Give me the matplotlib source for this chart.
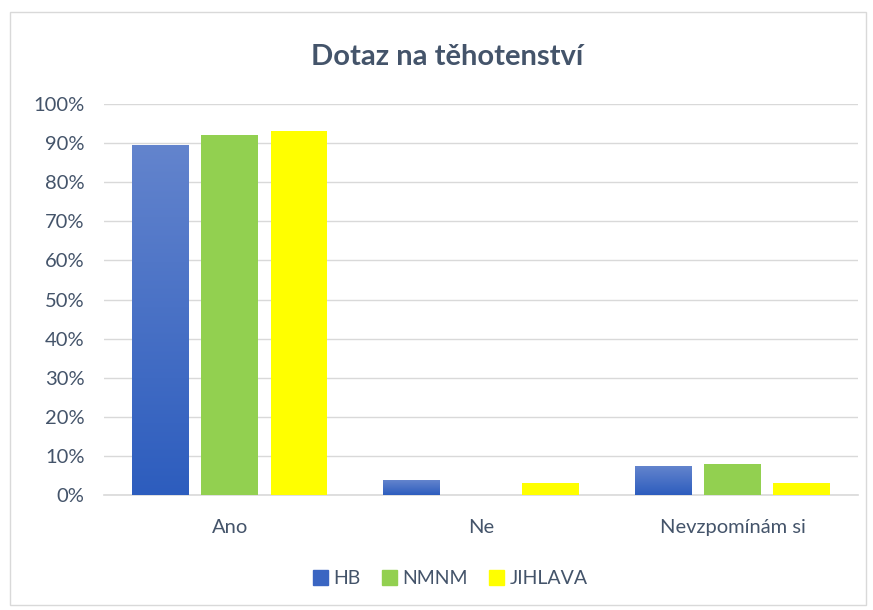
import numpy as np
import matplotlib.pyplot as plt
from matplotlib.patches import Rectangle
from matplotlib.colors import LinearSegmentedColormap

# data
kategorie = ["Ano", "Ne", "Nevzpomínám si"]
hb = [0.893, 0.036, 0.072]
nmnm = [0.920, 0.0, 0.079]
jihlava = [0.930, 0.032, 0.032]
serie = ["HB", "NMNM", "JIHLAVA"]

plt.rcParams["font.family"] = ["Lato", "DejaVu Sans"]
text_barva = "#44546A"

fig = plt.figure(figsize=(8.73, 6.10), dpi=100)
ax = fig.add_axes([0.119, 0.1885, 0.864, 0.641])

x = np.arange(len(kategorie))
sirka = 0.226
krok = 0.276

# HB with a vertical gradient like the original
modra = LinearSegmentedColormap.from_list("modra", ["#2D5DBE", "#6384CD"])
grad = np.linspace(0, 1, 256).reshape(-1, 1)
for xi, v in zip(x - krok, hb):
    ax.imshow(grad, cmap=modra, origin="lower", aspect="auto",
              extent=[xi - sirka / 2, xi + sirka / 2, 0, v], zorder=3)
ax.bar(x - krok, hb, sirka, color="none", zorder=3, label="HB")
ax.bar(x, nmnm, sirka, color="#92D050", zorder=3, label="NMNM")
ax.bar(x + krok, jihlava, sirka, color="#FFFF00", zorder=3, label="JIHLAVA")

ax.set_xlim(-0.5, 2.5)
ax.set_ylim(0, 1.0)
ax.set_yticks(np.arange(0, 1.01, 0.1))
ax.set_yticklabels([f"{int(round(t * 100))}%" for t in np.arange(0, 1.01, 0.1)])
ax.set_xticks(x)
ax.set_xticklabels(kategorie)
ax.tick_params(axis="both", length=0, labelsize=14.5, colors=text_barva)
ax.tick_params(axis="x", pad=17)
ax.tick_params(axis="y", pad=14)
ax.yaxis.grid(True, color="#D9D9D9", linewidth=1)
ax.set_axisbelow(True)
for s in ["top", "right", "left"]:
    ax.spines[s].set_visible(False)
ax.spines["bottom"].set_color("#D9D9D9")
ax.spines["bottom"].set_linewidth(1.2)

fig.text(0.512, 0.907, "Dotaz na těhotenství", ha="center", va="center",
         fontsize=21, fontweight="bold", color=text_barva)

handles = [Rectangle((0, 0), 1, 1, color="#3A65C2"),
           Rectangle((0, 0), 1, 1, color="#92D050"),
           Rectangle((0, 0), 1, 1, color="#FFFF00")]
leg = fig.legend(handles, serie, loc="center", bbox_to_anchor=(0.516, 0.051),
                 ncol=3, frameon=False, fontsize=14, handlelength=0.75,
                 handleheight=0.75, handletextpad=0.3, columnspacing=1.1)
for t in leg.get_texts():
    t.set_color(text_barva)

fig.patches.append(Rectangle((0.012, 0.008), 0.98, 0.972, transform=fig.transFigure,
                             fill=False, edgecolor="#D9D9D9", linewidth=1))

fig.savefig("out.png", dpi=100)
